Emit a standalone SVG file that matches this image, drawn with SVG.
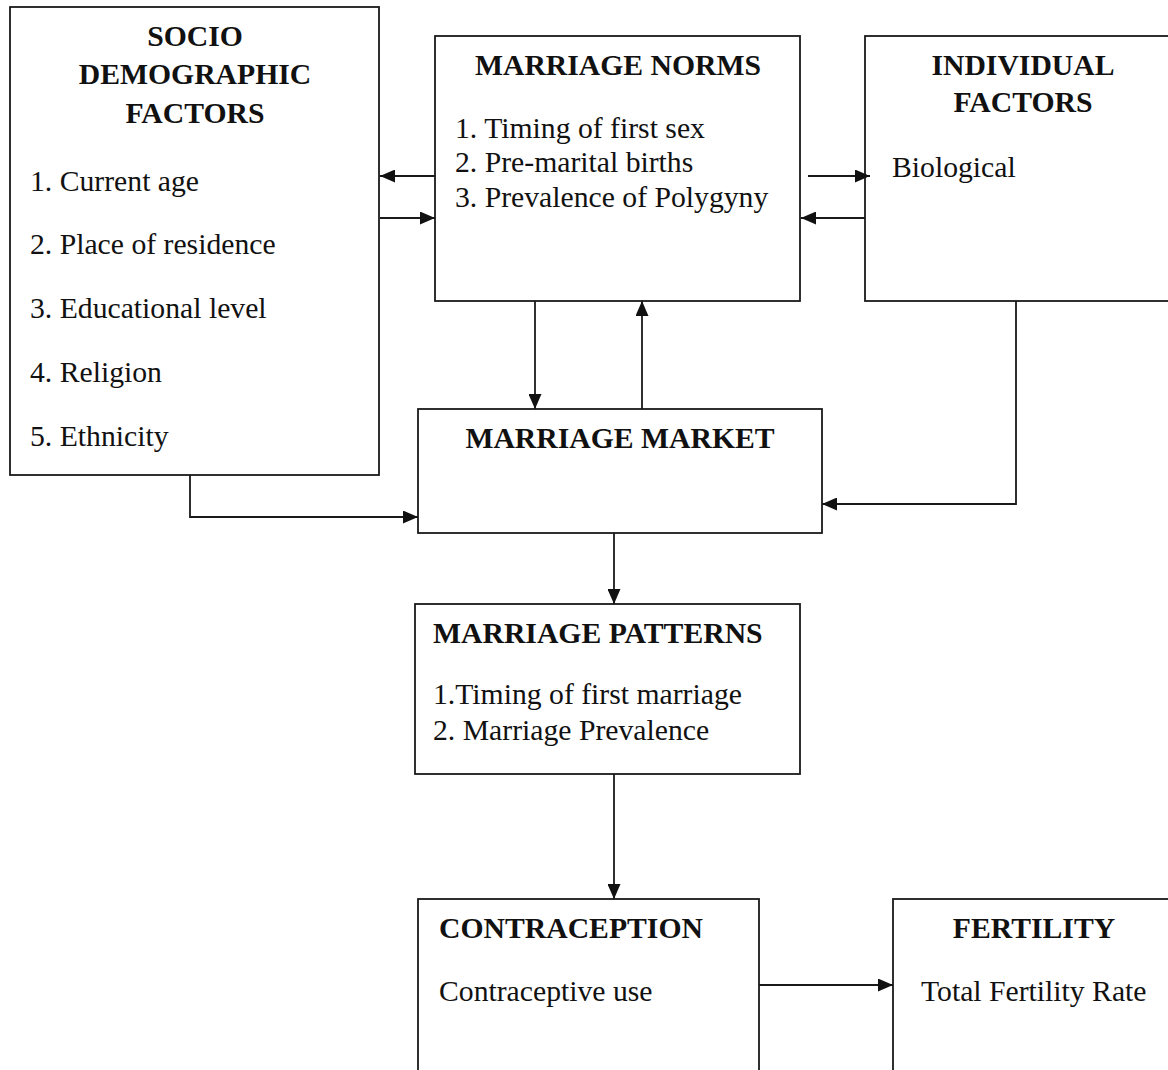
<svg xmlns="http://www.w3.org/2000/svg" width="1168" height="1070" viewBox="0 0 1168 1070">
  <style>
    .box { fill: #ffffff; stroke: #1a1a1a; stroke-width: 1.8; }
    .h { font-family: "Liberation Serif", "Times New Roman", serif; font-weight: bold; font-size: 29.7px; fill: #111; }
    .t { font-family: "Liberation Serif", "Times New Roman", serif; font-size: 29.7px; fill: #111; }
    .c { text-anchor: middle; }
    .conn { fill: none; stroke: #1a1a1a; stroke-width: 1.8; }
  </style>
  <defs>
    <marker id="arr" markerUnits="userSpaceOnUse" markerWidth="15" markerHeight="13" viewBox="0 0 15 13" refX="15" refY="6.5" orient="auto">
      <path d="M0,0 L15,6.5 L0,13 Z" fill="#111"/>
    </marker>
  </defs>
  <rect width="1168" height="1070" fill="#ffffff"/>

  <g id="socio">
    <rect class="box" x="10" y="7" width="369" height="468"/>
    <text class="h c" x="195" y="46">SOCIO</text>
    <text class="h c" x="195" y="84">DEMOGRAPHIC</text>
    <text class="h c" x="195" y="123">FACTORS</text>
    <text class="t" x="30" y="191">1. Current age</text>
    <text class="t" x="30" y="254">2. Place of residence</text>
    <text class="t" x="30" y="318">3. Educational level</text>
    <text class="t" x="30" y="382">4. Religion</text>
    <text class="t" x="30" y="446">5. Ethnicity</text>
  </g>

  <g id="norms">
    <rect class="box" x="435" y="36" width="365" height="265"/>
    <text class="h c" x="618" y="75">MARRIAGE NORMS</text>
    <text class="t" x="455" y="138">1. Timing of first sex</text>
    <text class="t" x="455" y="172">2. Pre-marital births</text>
    <text class="t" x="455" y="207">3. Prevalence of Polygyny</text>
  </g>

  <g id="individual">
    <rect class="box" x="865" y="36" width="320" height="265"/>
    <text class="h c" x="1023" y="75">INDIVIDUAL</text>
    <text class="h c" x="1023" y="112">FACTORS</text>
    <text class="t" x="892" y="177">Biological</text>
  </g>

  <g id="market">
    <rect class="box" x="418" y="409" width="404" height="124"/>
    <text class="h c" x="620" y="448">MARRIAGE MARKET</text>
  </g>

  <g id="patterns">
    <rect class="box" x="415" y="604" width="385" height="170"/>
    <text class="h" x="433" y="643">MARRIAGE PATTERNS</text>
    <text class="t" x="433" y="704">1.Timing of first marriage</text>
    <text class="t" x="433" y="740">2. Marriage Prevalence</text>
  </g>

  <g id="contraception">
    <rect class="box" x="418" y="899" width="341" height="180"/>
    <text class="h" x="439" y="938">CONTRACEPTION</text>
    <text class="t" x="439" y="1001">Contraceptive use</text>
  </g>

  <g id="fertility">
    <rect class="box" x="893" y="899" width="300" height="180"/>
    <text class="h c" x="1034" y="938">FERTILITY</text>
    <text class="t" x="921" y="1001">Total Fertility Rate</text>
  </g>

  <g id="connectors">
    <line class="conn" x1="435" y1="176" x2="380" y2="176" marker-end="url(#arr)"/>
    <line class="conn" x1="380" y1="218" x2="435" y2="218" marker-end="url(#arr)"/>
    <line class="conn" x1="808" y1="176" x2="870" y2="176" marker-end="url(#arr)"/>
    <line class="conn" x1="865" y1="218" x2="801" y2="218" marker-end="url(#arr)"/>
    <line class="conn" x1="535" y1="301" x2="535" y2="409" marker-end="url(#arr)"/>
    <line class="conn" x1="642" y1="409" x2="642" y2="301" marker-end="url(#arr)"/>
    <polyline class="conn" points="190,475 190,517 418,517" marker-end="url(#arr)"/>
    <polyline class="conn" points="1016,301 1016,504 822,504" marker-end="url(#arr)"/>
    <line class="conn" x1="614" y1="533" x2="614" y2="604" marker-end="url(#arr)"/>
    <line class="conn" x1="614" y1="774" x2="614" y2="899" marker-end="url(#arr)"/>
    <line class="conn" x1="759" y1="985" x2="893" y2="985" marker-end="url(#arr)"/>
  </g>
</svg>
